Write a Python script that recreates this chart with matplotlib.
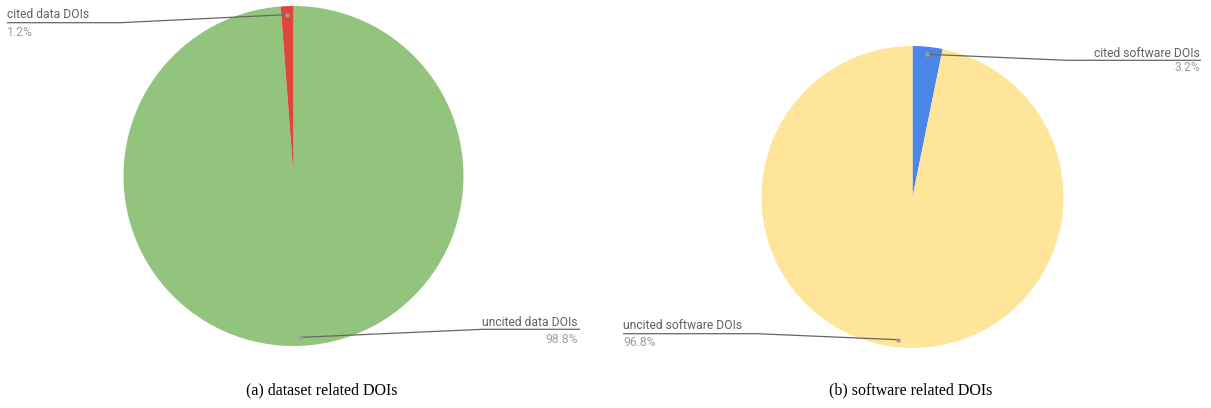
import numpy as np
import matplotlib
matplotlib.use("Agg")
import matplotlib.pyplot as plt

# ---- data ----
data_labels = ["uncited data DOIs", "cited data DOIs"]
data_values = [98.8, 1.2]
data_colors = ["#93c47d", "#e0443a"]

soft_labels = ["cited software DOIs", "uncited software DOIs"]
soft_values = [3.2, 96.8]
soft_colors = ["#4a86e8", "#ffe599"]

captions = ["(a) dataset related DOIs", "(b) software related DOIs"]

W, H = 1211, 408
fig = plt.figure(figsize=(W / 100, H / 100), dpi=100)
ax = fig.add_axes([0, 0, 1, 1])
ax.set_xlim(0, W)
ax.set_ylim(0, H)
ax.axis("off")

def Y(py):
    return H - py

LINE_C = "#666666"
LBL_C = "#616161"
PCT_C = "#9e9e9e"
FS = 8.7

def draw_pie(values, colors, center, radius):
    wedges, _ = ax.pie(values, colors=colors, startangle=90, counterclock=False,
                       center=center, radius=radius, frame=False,
                       wedgeprops=dict(linewidth=0, antialiased=True))
    dots = []
    for w in wedges:
        mid = np.deg2rad((w.theta1 + w.theta2) / 2)
        dots.append((center[0] + 0.95 * radius * np.cos(mid),
                     center[1] + 0.95 * radius * np.sin(mid)))
    return dots

def leader(dot, elbow, end, label, pct, align, text_x, lbl_y, pct_y):
    ax.plot([dot[0], elbow[0], end[0]], [dot[1], elbow[1], end[1]],
            color=LINE_C, lw=0.9, solid_capstyle="butt", zorder=5)
    ax.plot([dot[0]], [dot[1]], "o", color="#9e9e9e", ms=3.2, zorder=6, mec="none")
    ax.text(text_x, lbl_y, label, ha=align, va="baseline", fontsize=FS,
            color=LBL_C, family="Roboto")
    ax.text(text_x, pct_y, pct, ha=align, va="baseline", fontsize=FS,
            color=PCT_C, family="Roboto")

# pie (a)
c1 = (293.5, Y(176))
d1 = draw_pie(data_values, data_colors, c1, 170)
leader(d1[1], (120, Y(22.7)), (7, Y(22.7)), data_labels[1],
       f"{data_values[1]}%", "left", 7, Y(17.5), Y(36))
leader(d1[0], (483, Y(329.3)), (580, Y(329.3)), data_labels[0],
       f"{data_values[0]}%", "right", 578, Y(326), Y(343))

# pie (b)
c2 = (912.5, Y(197))
d2 = draw_pie(soft_values, soft_colors, c2, 151)
leader(d2[0], (1067, Y(60.3)), (1201, Y(60.3)), soft_labels[0],
       f"{soft_values[0]}%", "right", 1200, Y(57), Y(71))
leader(d2[1], (757, Y(333.7)), (623, Y(333.7)), soft_labels[1],
       f"{soft_values[1]}%", "left", 623, Y(329), Y(345.5))

ax.set_xlim(0, W)
ax.set_ylim(0, H)
ax.set_aspect("auto")

for cx, cap in zip([322, 911], captions):
    ax.text(cx, Y(394), cap, ha="center", va="baseline", fontsize=11.5,
            family="Liberation Serif", color="black")

fig.savefig("out.png", dpi=100)
